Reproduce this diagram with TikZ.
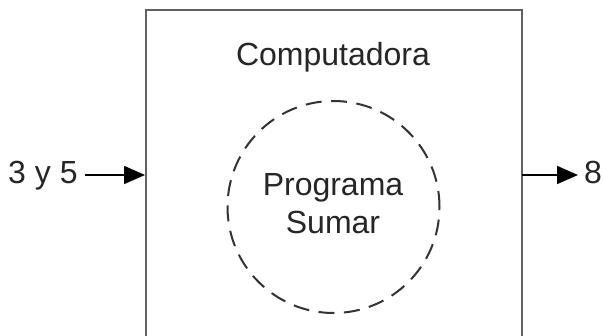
\documentclass[tikz,border=0pt]{standalone}
\usepackage{fontspec}
\setmainfont{Liberation Sans}
\usetikzlibrary{arrows.meta}
\begin{document}
\begin{tikzpicture}[x=1pt,y=-1pt,
  lbl/.style={inner sep=0pt,anchor=base,font=\fontsize{32}{40}\selectfont,text=black!85},
  frame/.style={draw=black!62,line width=2.6pt},
  flow/.style={draw=black,line width=1.8pt,-{Triangle[length=21pt,width=18pt]}},
  prog/.style={circle,draw=black!80,line width=2pt,dash pattern=on 16pt off 9.5pt,minimum size=212pt,inner sep=0pt}]
\useasboundingbox (0,0) rectangle (603,336);
\fill[white] (0,0) rectangle (603,336);
% open-bottom box (cut by the page edge)
\coordinate (bl) at (146,340);
\coordinate (tl) at (146,10);
\coordinate (tr) at (522,10);
\coordinate (br) at (522,340);
\draw[frame] (bl) -- (tl) -- (tr) -- (br);
\node[lbl] (comp) at (333,66) {Computadora};
\node[prog] (circ) at (333.5,207) {};
\node[lbl,align=center,anchor=center] (prog) at (333,204) {Programa\\[-2pt]Sumar};
\node[lbl,anchor=base west] (in) at (8,184) {3 y 5};
\coordinate (inend) at (145,175);
\coordinate (outstart) at (522,175);
\node[lbl,anchor=base west] (out) at (584,184) {8};
\draw[flow] (in.east |- inend) ++(7,0) -- (inend);
\draw[flow] (outstart) -- ([xshift=-6pt]out.west |- outstart);
\end{tikzpicture}
\end{document}
